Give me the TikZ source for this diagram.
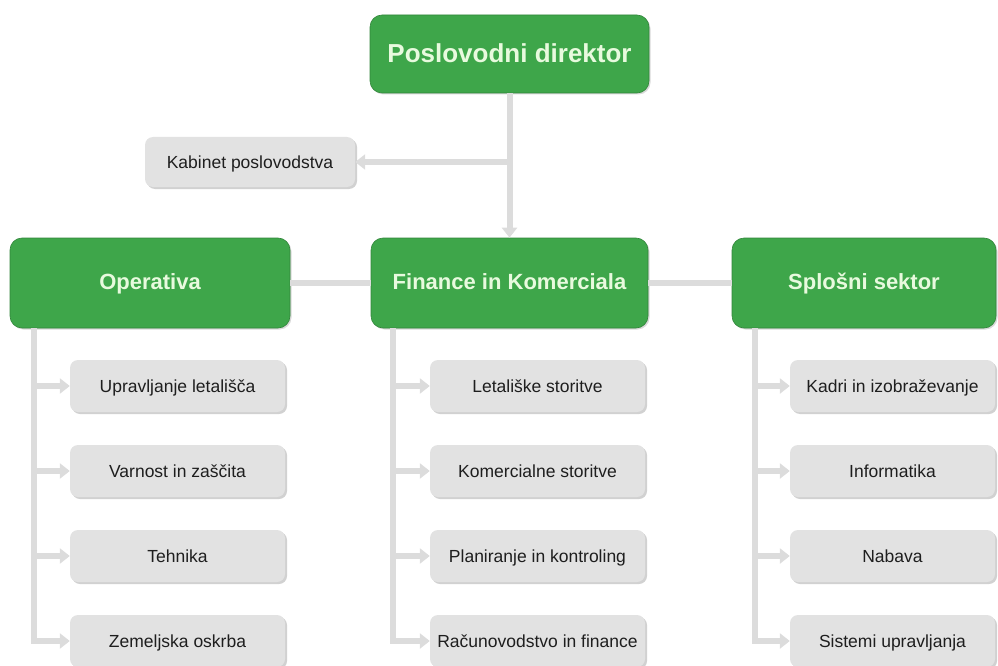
\documentclass[tikz,border=0pt]{standalone}
\usepackage{fontspec}
\setmainfont{Liberation Sans}
\usetikzlibrary{arrows.meta,shadows,calc}
\definecolor{grn}{RGB}{62,166,74}
\definecolor{grntxt}{RGB}{232,250,222}
\definecolor{boxgray}{RGB}{226,226,226}
\definecolor{conn}{RGB}{220,220,220}
\definecolor{txtdark}{RGB}{30,30,30}
\tikzset{
  mainbox/.style={fill=grn, text=grntxt, rounded corners=12pt, font=\fontsize{22}{26}\selectfont\bfseries,
    inner sep=0pt, draw=grn!80!black, line width=0.6pt, text height=16pt, text depth=4pt,
    drop shadow={shadow xshift=1.5pt, shadow yshift=-1.5pt, fill=black!25, opacity=0.6}},
  subbox/.style={fill=boxgray, text=txtdark, rounded corners=8pt, font=\fontsize{17.5}{20}\selectfont,
    inner sep=0pt, minimum height=52pt, text height=15pt, text depth=2pt,
    drop shadow={shadow xshift=2pt, shadow yshift=-2pt, fill=black!30, opacity=0.6}},
  link/.style={draw=conn, line width=6pt},
  arr/.style={link, -{Triangle[width=15pt,length=10pt]}},
}
\begin{document}
\begin{tikzpicture}[x=1pt,y=-1pt]
\useasboundingbox (0,0) rectangle (998,666);
% top
\node[mainbox, minimum width=279pt, minimum height=78pt, font=\fontsize{26}{30}\selectfont\bfseries, text height=21pt, text depth=3pt] (top) at (509.5,54) {Poslovodni direktor};
\node[subbox, minimum width=210pt, minimum height=50pt] (kab) at (250,162) {Kabinet poslovodstva};
% level 2
\node[mainbox, minimum width=280pt, minimum height=90pt] (op) at (150,283) {Operativa};
\node[mainbox, minimum width=277pt, minimum height=90pt] (fin) at (509.5,283) {Finance in Komerciala};
\node[mainbox, minimum width=264pt, minimum height=90pt] (spl) at (864,283) {Splošni sektor};
% children
\node[subbox, minimum width=215pt] (o1) at (177.5,386) {Upravljanje letališča};
\node[subbox, minimum width=215pt] (o2) at (177.5,471) {Varnost in zaščita};
\node[subbox, minimum width=215pt] (o3) at (177.5,556) {Tehnika};
\node[subbox, minimum width=215pt] (o4) at (177.5,641) {Zemeljska oskrba};
\node[subbox, minimum width=215pt] (f1) at (537.5,386) {Letališke storitve};
\node[subbox, minimum width=215pt] (f2) at (537.5,471) {Komercialne storitve};
\node[subbox, minimum width=215pt] (f3) at (537.5,556) {Planiranje in kontroling};
\node[subbox, minimum width=215pt] (f4) at (537.5,641) {Računovodstvo in finance};
\node[subbox, minimum width=205pt] (s1) at (892.5,386) {Kadri in izobraževanje};
\node[subbox, minimum width=205pt] (s2) at (892.5,471) {Informatika};
\node[subbox, minimum width=205pt] (s3) at (892.5,556) {Nabava};
\node[subbox, minimum width=205pt] (s4) at (892.5,641) {Sistemi upravljanja};
% spine coordinates
\coordinate (ops) at ($(op.south west)+(24,0)$);
\coordinate (fis) at ($(fin.south west)+(22,0)$);
\coordinate (sps) at ($(spl.south west)+(23,0)$);
% connectors
\draw[arr] (top.south) -- (fin.north);
\draw[arr] (top.south |- kab.east) -- (kab.east);
\draw[link] (op.east) -- (fin.west);
\draw[link] (fin.east) -- (spl.west);
\draw[arr] (ops) |- (o4.west);
\draw[arr] (ops |- o1.west) -- (o1.west);
\draw[arr] (ops |- o2.west) -- (o2.west);
\draw[arr] (ops |- o3.west) -- (o3.west);
\draw[arr] (fis) |- (f4.west);
\draw[arr] (fis |- f1.west) -- (f1.west);
\draw[arr] (fis |- f2.west) -- (f2.west);
\draw[arr] (fis |- f3.west) -- (f3.west);
\draw[arr] (sps) |- (s4.west);
\draw[arr] (sps |- s1.west) -- (s1.west);
\draw[arr] (sps |- s2.west) -- (s2.west);
\draw[arr] (sps |- s3.west) -- (s3.west);
\end{tikzpicture}
\end{document}
